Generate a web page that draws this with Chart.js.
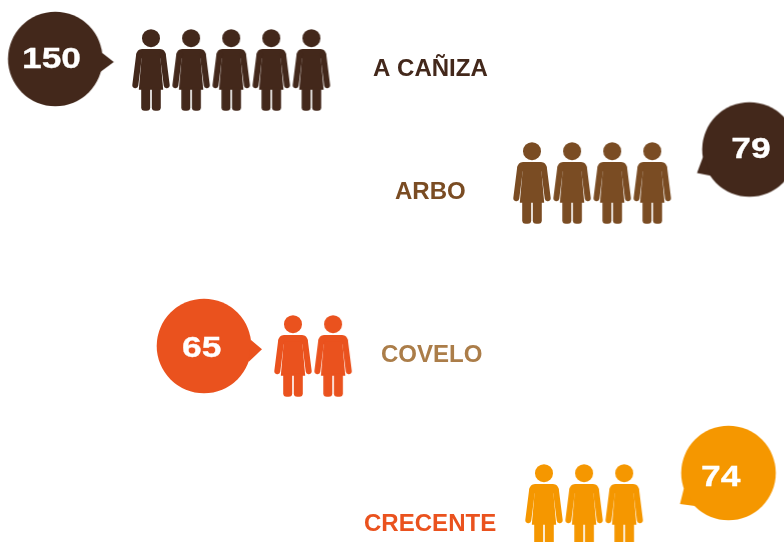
<!DOCTYPE html>
<html>
<head>
<meta charset="utf-8">
<style>
	html, body { margin: 0; padding: 0; background: #fff; }
	#wrap { width: 784px; height: 542px; overflow: hidden; }
</style>
<script src="https://cdn.jsdelivr.net/npm/chart.js@4/dist/chart.umd.min.js"></script>
</head>
<body>
<div id="wrap"><canvas id="chart" width="784" height="542"></canvas></div>
<script>
// data
const categories = ["A CAÑIZA", "ARBO", "COVELO", "CRECENTE"];
const values = [150, 79, 65, 74];
const iconCounts = [5, 4, 2, 3];

// layout, in axis units (the axes run 0-784 and 0-542)
const iconStartX = [151, 532, 293, 544];
const iconPitch = 40.1;
const iconCenterY = [70, 183, 356, 505];
const bubbleX = [55.3, 749.5, 204, 728.5];
const bubbleY = [59, 149.5, 346, 473];
const valueX = [51.5, 751, 201.7, 720.8];
const valueY = [59, 148.5, 347.5, 476.5];
const labelX = [373, 395, 381, 364];
const labelY = [70, 193, 356, 525];
const tails = [
	[[47, -6], [58.5, 3], [45, 13]],
	[[-46.5, 7.5], [-52.5, 23.5], [-37.5, 26.5]],
	[[47, -6], [58, 3.3], [44.5, 16]],
	[[-44.5, 15], [-48.5, 31], [-33.5, 33]],
];

const iconColors = ["#43281b", "#7a4c23", "#ea521e", "#f59700"];
const bubbleColors = ["#43281b", "#43281b", "#ea521e", "#f59700"];
const labelColors = ["#43281b", "#7a4c23", "#ab7d49", "#ea521e"];

// woman pictogram, origin at the top of the head
function makeIcon(color) {
	const c = document.createElement("canvas");
	c.width = 46;
	c.height = 88;
	const g = c.getContext("2d");
	g.translate(23, 3.35);
	g.fillStyle = color;
	g.strokeStyle = color;

	g.beginPath();
	g.arc(0, 8.8, 9, 0, Math.PI * 2);
	g.fill();

	// shoulders
	g.beginPath();
	g.moveTo(-14.6, 26);
	g.quadraticCurveTo(-14.2, 19.7, -9, 19.7);
	g.lineTo(9, 19.7);
	g.quadraticCurveTo(14.2, 19.7, 14.6, 26);
	g.lineTo(9.5, 29);
	g.lineTo(-9.5, 29);
	g.closePath();
	g.fill();

	// arms
	g.lineWidth = 6;
	g.lineCap = "round";
	[-1, 1].forEach(function (s) {
		g.beginPath();
		g.moveTo(s * 11.8, 25);
		g.lineTo(s * 15.7, 55.8);
		g.stroke();
	});

	// dress
	g.beginPath();
	g.moveTo(-9.2, 26);
	g.lineTo(9.2, 26);
	g.lineTo(12.2, 60.3);
	g.lineTo(-12.2, 60.3);
	g.closePath();
	g.fill();

	// legs
	[-9.8, 0.8].forEach(function (x) {
		g.beginPath();
		g.roundRect(x, 58, 9, 23.3, [0, 0, 3.5, 3.5]);
		g.fill();
	});
	return c;
}

function makeBubble(color, tail) {
	const c = document.createElement("canvas");
	c.width = 130;
	c.height = 130;
	const g = c.getContext("2d");
	g.translate(65, 65);
	g.fillStyle = color;
	g.beginPath();
	g.arc(0, 0, 47.3, 0, Math.PI * 2);
	g.fill();
	g.beginPath();
	g.moveTo(tail[0][0], tail[0][1]);
	g.lineTo(tail[1][0], tail[1][1]);
	g.lineTo(tail[2][0], tail[2][1]);
	g.closePath();
	g.fill();
	return c;
}

const datasets = [];
categories.forEach(function (name, i) {
	const pts = [];
	for (let n = 0; n < iconCounts[i]; n++) {
		pts.push({ x: iconStartX[i] + n * iconPitch, y: iconCenterY[i] });
	}
	datasets.push({
		label: name,
		data: pts,
		pointStyle: makeIcon(iconColors[i]),
	});
});
datasets.push({
	label: "bubbles",
	data: values.map(function (v, i) {
		return { x: bubbleX[i], y: bubbleY[i] };
	}),
	pointStyle: bubbleColors.map(function (col, i) {
		return makeBubble(col, tails[i]);
	}),
});

// numbers in the bubbles and municipality names
const textPlugin = {
	id: "texts",
	afterDatasetsDraw: function (chart) {
		const ctx = chart.ctx;
		const sx = chart.scales.x;
		const sy = chart.scales.y;
		ctx.save();
		ctx.textBaseline = "middle";
		categories.forEach(function (name, i) {
			ctx.save();
			ctx.translate(sx.getPixelForValue(labelX[i]), sy.getPixelForValue(labelY[i]));
			ctx.scale(1.045, 1);
			ctx.textAlign = "left";
			ctx.fillStyle = labelColors[i];
			ctx.font = "bold 23px 'Liberation Sans'";
			ctx.fillText(name, 0, 0);
			ctx.restore();

			ctx.save();
			ctx.translate(sx.getPixelForValue(valueX[i]), sy.getPixelForValue(valueY[i]));
			ctx.scale(1.18, 1);
			ctx.textAlign = "center";
			ctx.fillStyle = "#fff";
			ctx.strokeStyle = "#fff";
			ctx.lineWidth = 0.3;
			ctx.font = "bold 30px 'Liberation Sans'";
			ctx.fillText(String(values[i]), 0, 1);
			ctx.strokeText(String(values[i]), 0, 1);
			ctx.restore();
		});
		ctx.restore();
	},
};

new Chart(document.getElementById("chart").getContext("2d"), {
	type: "scatter",
	data: { datasets: datasets },
	plugins: [textPlugin],
	options: {
		responsive: false,
		animation: false,
		events: [],
		layout: { padding: 0, autoPadding: false },
		plugins: {
			legend: { display: false },
			title: { display: false },
			tooltip: { enabled: false },
		},
		scales: {
			x: { type: "linear", display: false, min: 0, max: 784 },
			y: { type: "linear", display: false, min: 0, max: 542, reverse: true },
		},
	},
});
</script>
</body>
</html>
